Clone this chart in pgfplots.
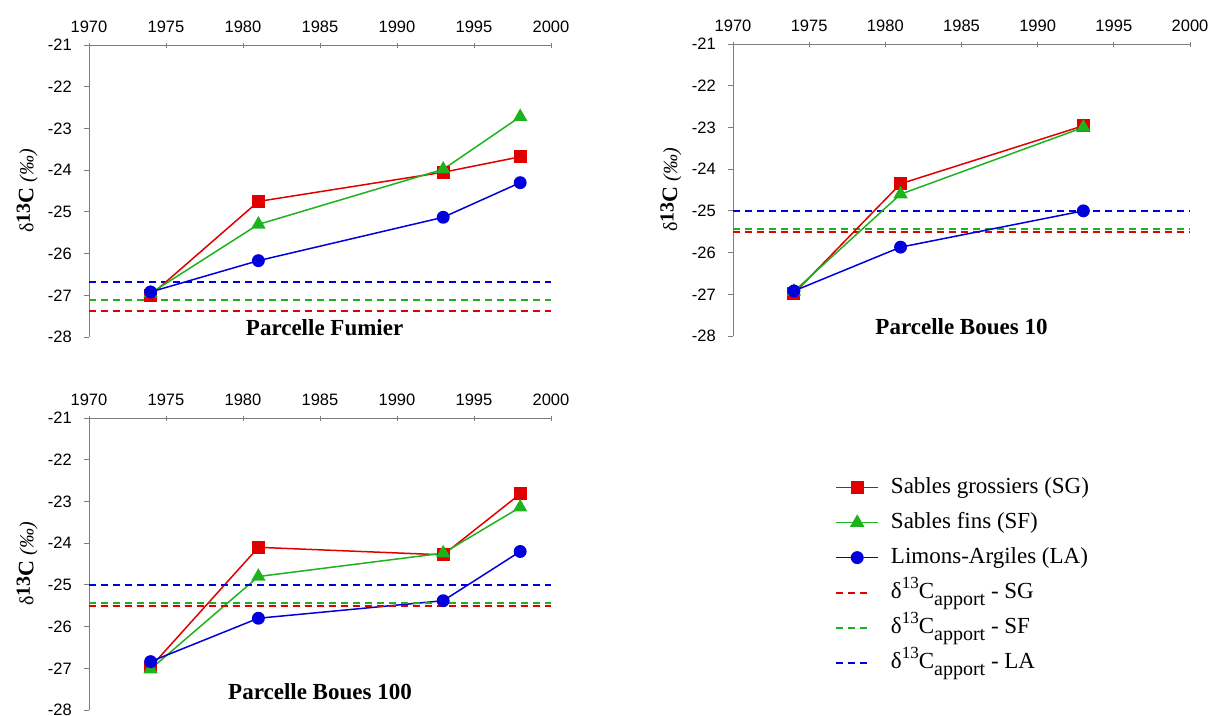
\documentclass[border=0pt]{standalone}
\usepackage{fontspec}
\setmainfont{Liberation Serif}
\newfontfamily\tickfont{Liberation Sans}
\usepackage{pgfplots}
\pgfplotsset{compat=1.18}
\definecolor{myred}{RGB}{225,0,0}
\definecolor{mygreen}{RGB}{30,178,30}
\definecolor{myblue}{RGB}{0,0,220}
\definecolor{axgray}{RGB}{125,125,125}
\newcommand{\ylab}{{\fontsize{20bp}{20bp}\selectfont δ}{\bfseries\fontsize{20bp}{20bp}\selectfont\raisebox{0.18em}{13}}{\bfseries\fontsize{22bp}{22bp}\selectfont C}\hspace{5bp}{\itshape\fontsize{20bp}{20bp}\selectfont (‰)}}
\newcommand{\apport}[1]{δ\raisebox{0.42em}{\fontsize{17bp}{17bp}\selectfont 13}C\raisebox{-0.32em}{\fontsize{20bp}{20bp}\selectfont apport} - #1}
\pgfplotsset{
  panel/.style={
    scale only axis, width=462bp, height=292bp,
    xmin=1970, xmax=2000, ymin=-28, ymax=-21,
    axis x line=top, axis y line=left,
    axis line style={-, axgray, line width=0.9bp},
    every tick/.style={axgray, line width=0.9bp},
    xtick={1970,1975,...,2000},
    xticklabels={1970,1975,1980,1985,1990,1995,2000},
    ytick={-28,-27,...,-21},
    yticklabels={-28,-27,-26,-25,-24,-23,-22,-21},
    xtick align=center,
    ytick align=outside,
    major tick length=5bp,
    tick label style={font=\tickfont\fontsize{16.5bp}{16.5bp}\selectfont, inner sep=0pt},
    xticklabel style={yshift=10bp},
    yticklabel style={xshift=-12bp},
    clip=false,
  },
  ser/.style={line width=1.5bp, mark options={solid}},
  sg/.style={ser, color=myred, draw=myred, mark=square*, mark size=5.7bp, mark options={fill=myred, draw=myred}},
  sf/.style={ser, color=mygreen, draw=mygreen, mark=triangle*, mark size=6.8bp, mark options={fill=mygreen, draw=mygreen}},
  la/.style={ser, color=myblue, draw=myblue, mark=*, mark size=5.7bp, mark options={fill=myblue, draw=myblue}},
  ref/.style={line width=1.8bp, dash pattern=on 7bp off 5bp, color=#1, draw=#1,
    legend image code/.code={\draw[##1] (0bp,6.5bp) -- (33bp,6.5bp);}},
}
\begin{document}
\begin{tikzpicture}
% Panel 1
\begin{axis}[panel, at={(89bp,-337bp)}, anchor=south west]
\addplot[ref=myblue] coordinates {(1970,-26.68) (2000,-26.68)};
\addplot[ref=mygreen] coordinates {(1970,-27.12) (2000,-27.12)};
\addplot[ref=myred] coordinates {(1970,-27.37) (2000,-27.37)};
\addplot[sg] coordinates {(1974,-27.0) (1981,-24.75) (1993,-24.05) (1998,-23.68)};
\addplot[sf] coordinates {(1974,-26.95) (1981,-25.3) (1993,-23.98) (1998,-22.72)};
\addplot[la] coordinates {(1974,-26.92) (1981,-26.17) (1993,-25.13) (1998,-24.3)};
\node[font=\bfseries\fontsize{23bp}{23bp}\selectfont] at (axis cs:1985.3,-27.78) {Parcelle Fumier};
\node[rotate=90] at (axis description cs:-0.134,0.5) {\ylab};
\end{axis}
% Panel 2
\begin{axis}[panel, at={(733bp,-336bp)}, anchor=south west, width=457bp]
\addplot[ref=myblue] coordinates {(1970,-25.0) (2000,-25.0)};
\addplot[ref=mygreen] coordinates {(1970,-25.44) (2000,-25.44)};
\addplot[ref=myred] coordinates {(1970,-25.5) (2000,-25.5)};
\addplot[sg] coordinates {(1974,-26.98) (1981,-24.35) (1993,-22.96)};
\addplot[sf] coordinates {(1974,-26.93) (1981,-24.6) (1993,-23.0)};
\addplot[la] coordinates {(1974,-26.92) (1981,-25.87) (1993,-25.0)};
\node[font=\bfseries\fontsize{23bp}{23bp}\selectfont] at (axis cs:1985.0,-27.78) {Parcelle Boues 10};
\node[rotate=90] at (axis description cs:-0.136,0.5) {\ylab};
\end{axis}
% Panel 3
\begin{axis}[panel, at={(89bp,-710bp)}, anchor=south west,
  legend style={at={(axis description cs:1.615,0.80)}, anchor=north west,
    draw=none, fill=none, inner sep=0pt, column sep=12bp,
    font=\fontsize{23bp}{23bp}\selectfont,
    nodes={inner sep=0pt, text height=17bp, text depth=18bp}},
  legend cell align=left,
  legend image code/.code={\draw[mark repeat=2, mark phase=2, #1] plot coordinates {(0bp,6.5bp) (21bp,6.5bp) (42bp,6.5bp)};},
]
\addplot[sg] coordinates {(1974,-26.97) (1981,-24.1) (1993,-24.28) (1998,-22.82)};
\addlegendentry{Sables grossiers (SG)}
\addplot[sf] coordinates {(1974,-27.02) (1981,-24.8) (1993,-24.24) (1998,-23.14)};
\addlegendentry{Sables fins (SF)}
\addplot[la] coordinates {(1974,-26.84) (1981,-25.8) (1993,-25.38) (1998,-24.2)};
\addlegendentry{Limons-Argiles (LA)}
\addplot[ref=myred] coordinates {(1970,-25.5) (2000,-25.5)};
\addlegendentry{\apport{SG}}
\addplot[ref=mygreen] coordinates {(1970,-25.43) (2000,-25.43)};
\addlegendentry{\apport{SF}}
\addplot[ref=myblue] coordinates {(1970,-25.0) (2000,-25.0)};
\addlegendentry{\apport{LA}}
\node[font=\bfseries\fontsize{23bp}{23bp}\selectfont] at (axis cs:1985.0,-27.55) {Parcelle Boues 100};
\node[rotate=90] at (axis description cs:-0.134,0.5) {\ylab};
\end{axis}
\pgfresetboundingbox
\path[use as bounding box] (0bp,0bp) rectangle (1220bp,-716bp);
\end{tikzpicture}
\end{document}
